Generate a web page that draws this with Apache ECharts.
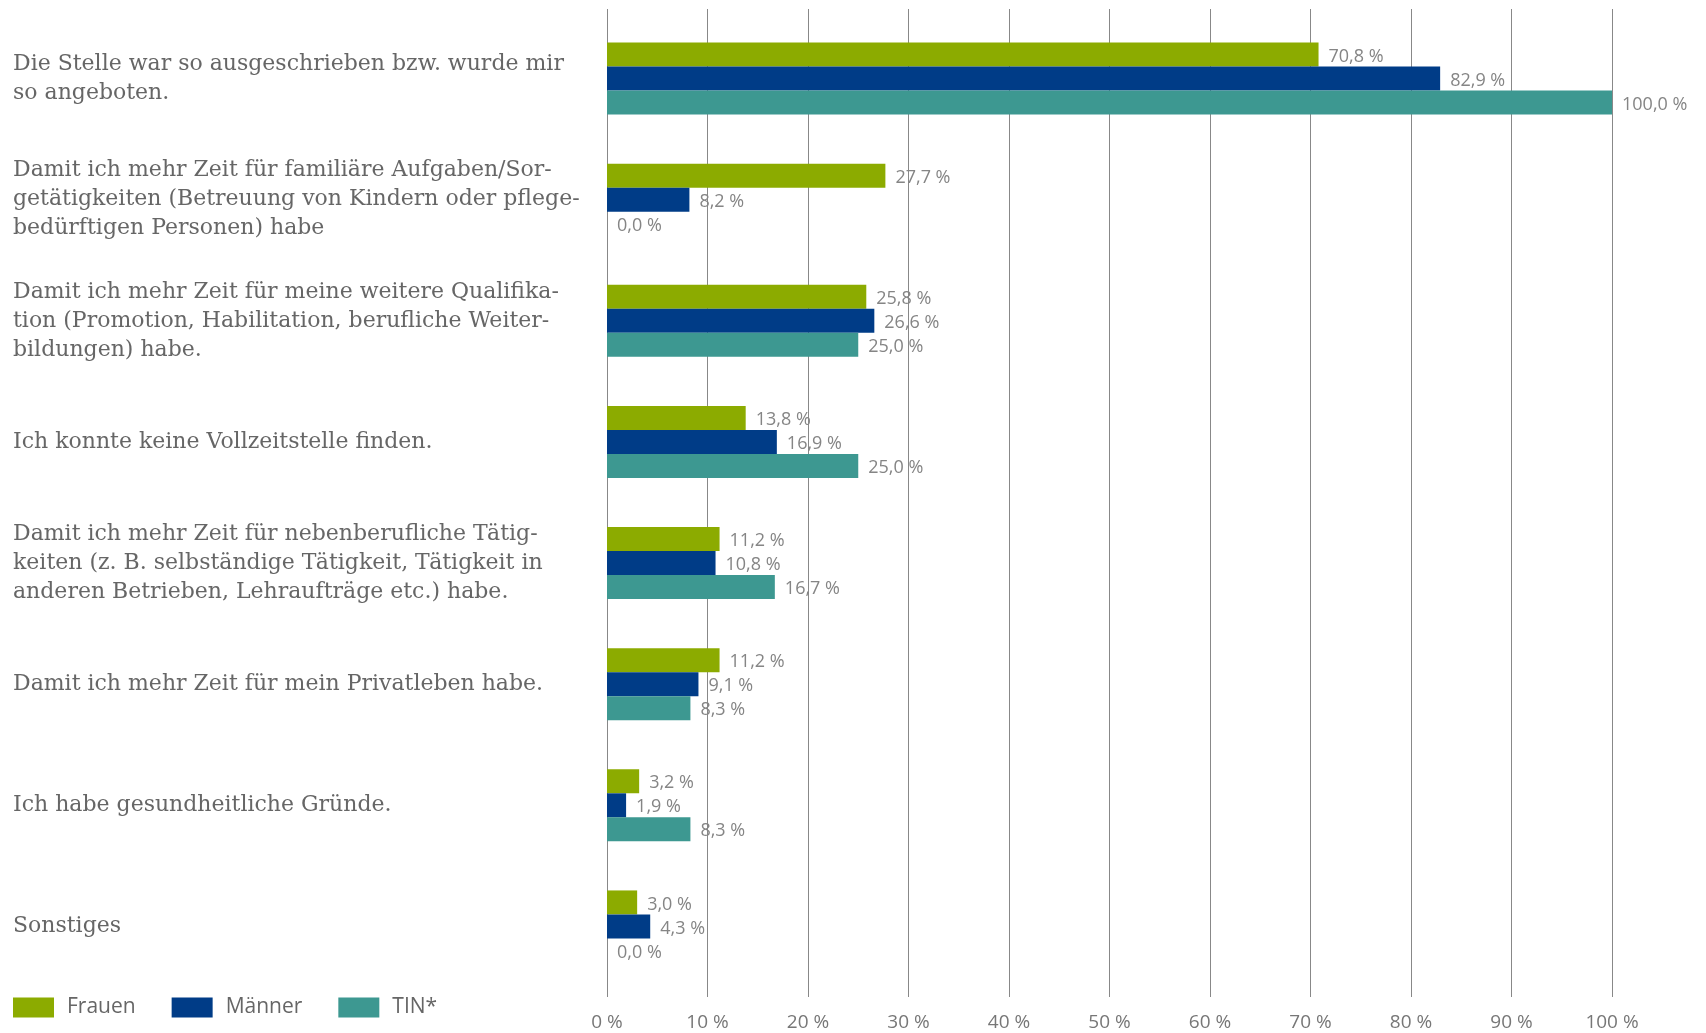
<!DOCTYPE html>
<html>
<head>
<meta charset="utf-8">
<script src="https://cdn.jsdelivr.net/npm/echarts@6/dist/echarts.min.js"></script>
<style>
html,body{margin:0;padding:0;background:#fff;}
#chart{width:1706px;height:1033px;}
</style>
</head>
<body>
<div id="chart"></div>
<script>
const categories = [
  'Die Stelle war so ausgeschrieben bzw. wurde mir\nso angeboten.',
  'Damit ich mehr Zeit für familiäre Aufgaben/Sor-\ngetätigkeiten (Betreuung von Kindern oder pflege-\nbedürftigen Personen) habe',
  'Damit ich mehr Zeit für meine weitere Qualifika-\ntion (Promotion, Habilitation, berufliche Weiter-\nbildungen) habe.',
  'Ich konnte keine Vollzeitstelle finden.',
  'Damit ich mehr Zeit für nebenberufliche Tätig-\nkeiten (z. B. selbständige Tätigkeit, Tätigkeit in\nanderen Betrieben, Lehraufträge etc.) habe.',
  'Damit ich mehr Zeit für mein Privatleben habe.',
  'Ich habe gesundheitliche Gründe.',
  'Sonstiges'
];
const seriesNames = ['Frauen', 'Männer', 'TIN*'];
const frauen = [70.8, 27.7, 25.8, 13.8, 11.2, 11.2, 3.2, 3.0];
const maenner = [82.9, 8.2, 26.6, 16.9, 10.8, 9.1, 1.9, 4.3];
const tin = [100.0, 0.0, 25.0, 25.0, 16.7, 8.3, 8.3, 0.0];
const tickLabels = ['0 %','10 %','20 %','30 %','40 %','50 %','60 %','70 %','80 %','90 %','100 %'];
const colors = ['#8cab00', '#003c87', '#3d9891'];

const chart = echarts.init(document.getElementById('chart'), null, {renderer: 'canvas'});
const fmt = v => v.toFixed(1).replace('.', ',') + ' %';

function barSeries(name, data, color) {
  return {
    name: name,
    type: 'bar',
    xAxisIndex: 0,
    yAxisIndex: 0,
    data: data,
    barWidth: 24,
    barGap: '0%',
    itemStyle: {color: color},
    label: {
      show: true,
      position: 'right',
      distance: 10,
      offset: [0, 2],
      formatter: p => fmt(p.value),
      color: '#858585',
      fontFamily: 'Open Sans',
      fontSize: 18
    }
  };
}

chart.setOption({
  animation: false,
  color: colors,
  legend: {
    left: 13,
    top: 997,
    padding: 0,
    icon: 'rect',
    itemWidth: 41,
    itemHeight: 20,
    itemGap: 36,
    formatter: name => '{t|' + name + '}',
    textStyle: {color: '#666', fontFamily: 'Open Sans', fontSize: 21,
      rich: {t: {color: '#666', fontFamily: 'Open Sans', fontSize: 21, padding: [0, 0, 0, 8]}}},
    data: seriesNames
  },
  grid: [
    {left: 607, width: 1005, top: 18, height: 969},
    {left: 607, width: 1005, top: 9, height: 988}
  ],
  xAxis: [
    {gridIndex: 0, type: 'value', min: 0, max: 100, interval: 10,
     axisLine: {show: false}, axisTick: {show: false}, axisLabel: {show: false}, splitLine: {show: false}},
    {gridIndex: 1, type: 'value', min: 0, max: 100, interval: 10,
     axisLine: {show: false}, axisTick: {show: false},
     splitLine: {show: true, lineStyle: {color: '#888', width: 1}},
     axisLabel: {show: true, margin: 16, color: '#777', fontFamily: 'Open Sans', fontSize: 19,
       formatter: (v) => tickLabels[Math.round(v / 10)]}}
  ],
  yAxis: [
    {gridIndex: 0, type: 'category', inverse: true, data: categories,
     axisLine: {show: false}, axisTick: {show: false},
     axisLabel: {show: true, align: 'left', margin: 594, color: '#666',
       fontFamily: 'DejaVu Serif', fontSize: 22, lineHeight: 29}},
    {gridIndex: 1, type: 'category', data: ['a'], show: false}
  ],
  series: [
    barSeries(seriesNames[0], frauen, colors[0]),
    barSeries(seriesNames[1], maenner, colors[1]),
    barSeries(seriesNames[2], tin, colors[2])
  ]
});
</script>
</body>
</html>
